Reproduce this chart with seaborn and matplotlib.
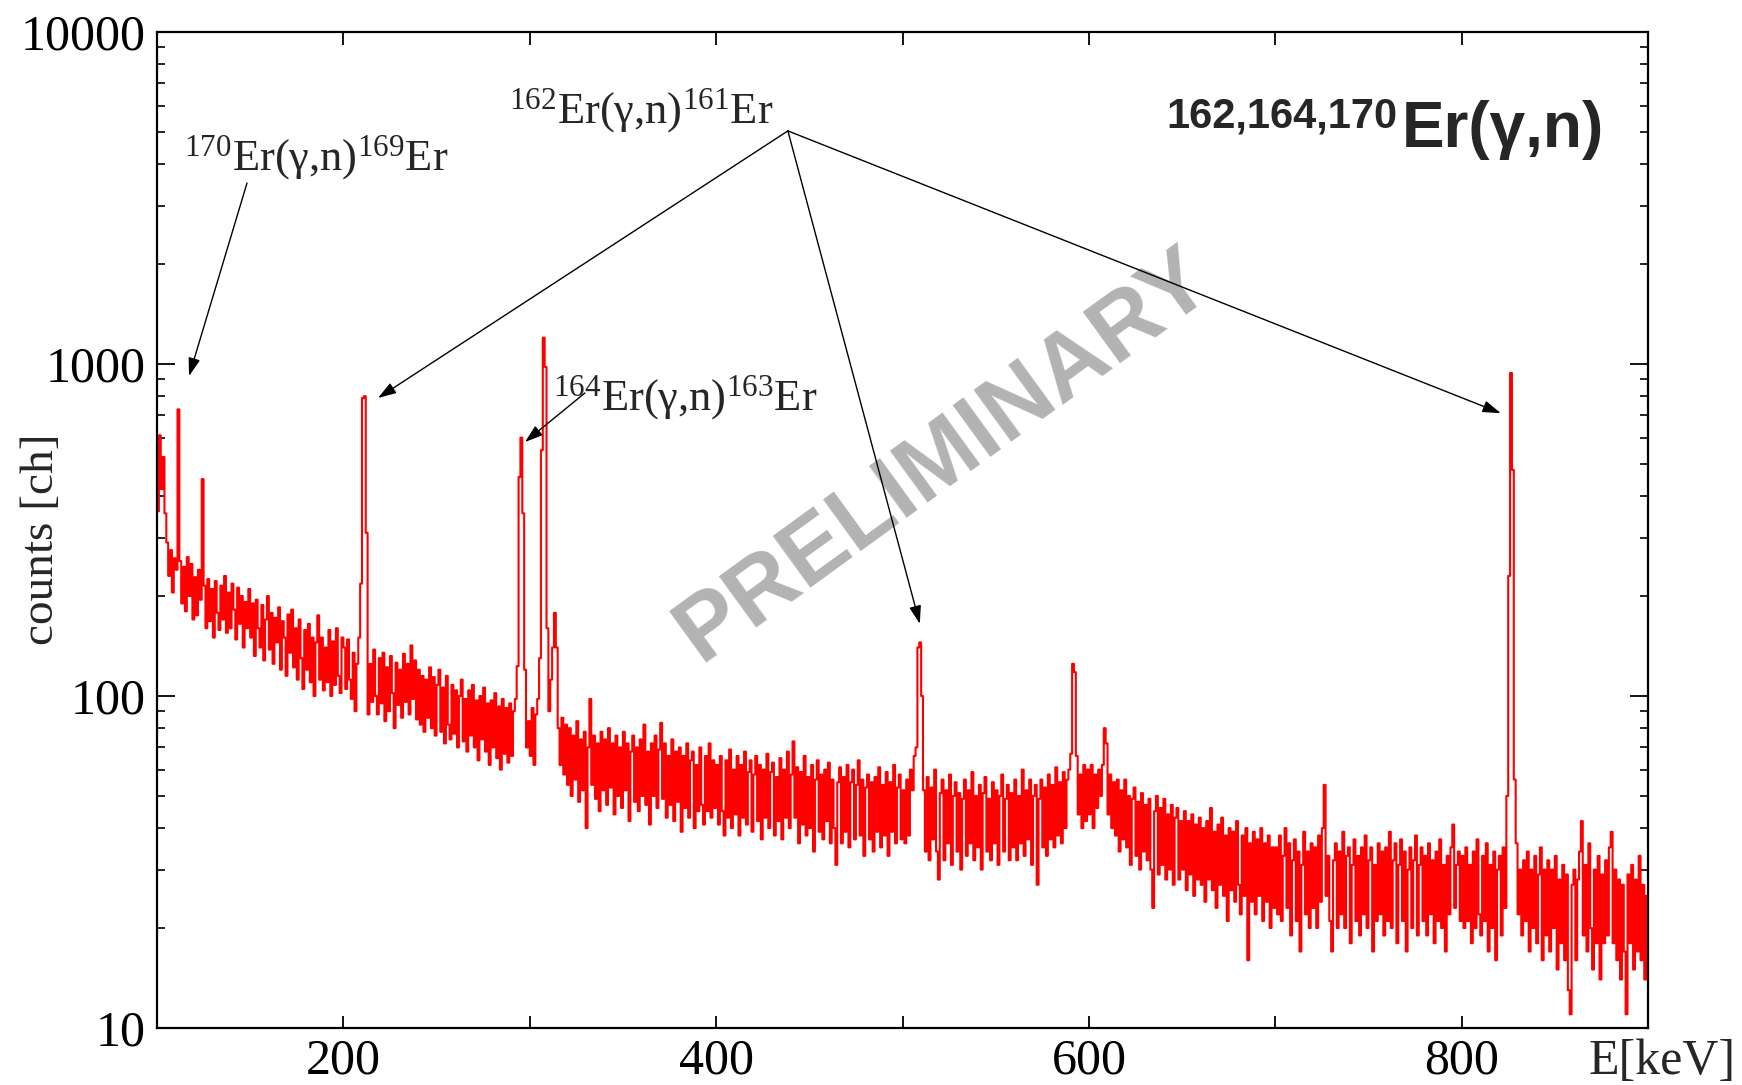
import numpy as np
import pandas as pd
import matplotlib
matplotlib.use("Agg")
import matplotlib.pyplot as plt
import seaborn as sns
from matplotlib.ticker import FixedLocator, LogLocator, NullFormatter

# ---------------- data (counts per 1 keV channel) ----------------
counts_100_199 = [360, 610, 420, 525, 355, 290, 230, 275, 205, 260, 240, 730, 255, 190, 245, 180, 262, 200, 250, 170,
                  228, 175, 240, 195, 450, 215, 160, 225, 168, 210, 150, 222, 178, 158, 215, 170, 230, 155, 205, 160,
                  218, 182, 148, 212, 165, 200, 140, 192, 160, 210, 150, 190, 132, 195, 160, 140, 188, 128, 170, 200,
                  138, 178, 125, 172, 145, 185, 120, 168, 150, 115, 176, 135, 182, 122, 160, 112, 170, 130, 105, 158,
                  120, 165, 110, 150, 100, 145, 175, 112, 150, 104, 140, 110, 158, 100, 146, 108, 160, 115, 102, 150]
counts_200_299 = [140, 105, 148, 112, 98, 135, 90, 125, 150, 218, 790, 800, 310, 88, 125, 96, 138, 100, 88, 130,
                  95, 135, 84, 122, 90, 132, 102, 80, 126, 94, 120, 86, 134, 96, 125, 88, 142, 98, 128, 85,
                  120, 82, 115, 78, 112, 86, 122, 80, 114, 76, 108, 120, 78, 106, 72, 115, 82, 74, 108, 77,
                  104, 70, 100, 112, 73, 98, 68, 104, 76, 108, 70, 97, 64, 100, 74, 106, 68, 95, 62, 97,
                  70, 102, 65, 93, 60, 98, 67, 92, 63, 95, 66, 90, 98, 123, 457, 600, 355, 120, 70, 84]
counts_300_399 = [66, 92, 62, 88, 98, 130, 550, 1200, 980, 160, 90, 112, 140, 178, 140, 80, 62, 86, 58, 82,
                  54, 80, 50, 76, 56, 84, 48, 74, 52, 78, 40, 70, 98, 54, 76, 49, 72, 45, 78, 52,
                  74, 47, 80, 53, 72, 44, 76, 50, 70, 46, 78, 52, 72, 42, 68, 76, 48, 70, 45, 74,
                  50, 82, 47, 68, 41, 72, 50, 76, 46, 69, 83, 49, 72, 43, 66, 47, 74, 42, 68, 48,
                  70, 39, 66, 46, 72, 43, 64, 68, 40, 62, 45, 70, 47, 41, 66, 45, 72, 43, 64, 46]
counts_400_499 = [62, 41, 66, 45, 38, 64, 43, 69, 40, 60, 44, 66, 38, 62, 43, 68, 41, 59, 64, 39,
                  58, 66, 42, 62, 37, 60, 43, 67, 40, 59, 63, 38, 57, 42, 65, 37, 60, 43, 68, 40,
                  58, 73, 43, 61, 36, 59, 41, 66, 38, 57, 40, 62, 34, 56, 64, 39, 58, 37, 60, 42,
                  63, 36, 56, 40, 31, 55, 61, 36, 57, 39, 62, 35, 55, 60, 37, 54, 64, 38, 56, 33,
                  53, 58, 37, 55, 34, 57, 39, 61, 35, 54, 38, 59, 33, 55, 39, 62, 36, 53, 58, 37]
counts_500_599 = [52, 36, 56, 38, 60, 52, 66, 70, 140, 145, 100, 52, 34, 57, 32, 53, 37, 60, 34, 28,
                  51, 56, 32, 52, 36, 58, 31, 50, 55, 34, 51, 30, 49, 56, 33, 52, 36, 59, 32, 50,
                  35, 54, 30, 51, 57, 34, 49, 32, 55, 36, 52, 31, 50, 58, 34, 49, 54, 32, 51, 35,
                  56, 32, 50, 36, 60, 33, 52, 37, 56, 31, 50, 54, 27, 49, 56, 35, 53, 33, 58, 37,
                  54, 35, 61, 38, 55, 36, 59, 40, 56, 60, 67, 125, 118, 66, 44, 58, 40, 62, 42, 60]
counts_600_699 = [44, 62, 40, 58, 46, 60, 50, 62, 80, 72, 44, 58, 40, 55, 38, 56, 34, 52, 37, 56,
                  35, 50, 31, 49, 53, 33, 48, 30, 51, 34, 47, 32, 49, 30, 23, 45, 50, 29, 46, 31,
                  49, 28, 44, 30, 47, 27, 43, 46, 28, 42, 30, 45, 26, 42, 29, 44, 25, 41, 28, 43,
                  27, 40, 24, 42, 28, 46, 26, 39, 23, 41, 27, 43, 25, 38, 21, 40, 26, 39, 24, 42,
                  27, 22, 38, 25, 40, 16, 36, 24, 39, 22, 37, 25, 40, 21, 36, 24, 38, 20, 35, 23]
counts_700_799 = [35, 22, 38, 21, 33, 40, 23, 36, 19, 32, 37, 21, 34, 17, 31, 39, 22, 34, 20, 36,
                  23, 35, 20, 38, 24, 40, 54, 25, 33, 21, 17, 32, 36, 20, 34, 22, 39, 20, 33, 35,
                  18, 31, 37, 21, 33, 19, 35, 22, 38, 20, 32, 35, 17, 31, 21, 36, 22, 34, 19, 35,
                  21, 39, 20, 32, 36, 18, 31, 37, 21, 34, 17, 30, 35, 20, 32, 38, 19, 31, 35, 21,
                  33, 19, 36, 22, 32, 18, 34, 21, 37, 20, 31, 17, 33, 22, 35, 41, 23, 31, 34, 21]
counts_800_899 = [33, 20, 35, 21, 31, 18, 34, 20, 37, 22, 19, 33, 21, 36, 17, 31, 20, 34, 16, 30,
                  33, 19, 35, 23, 50, 230, 940, 480, 56, 36, 22, 30, 19, 32, 21, 34, 17, 30, 20, 33,
                  18, 29, 35, 16, 30, 19, 32, 17, 30, 20, 33, 15, 28, 18, 31, 16, 29, 13, 11, 27,
                  30, 16, 28, 34, 42, 19, 31, 17, 36, 20, 15, 30, 18, 33, 14, 29, 18, 32, 19, 35,
                  39, 18, 30, 16, 28, 14, 27, 17, 11, 29, 18, 31, 15, 28, 17, 33, 16, 27, 14, 25]

first_channel_keV = 100
x_tick_values = [200, 300, 400, 500, 600, 700, 800]
x_tick_labels = ["200", "", "400", "", "600", "", "800"]
y_tick_values = [10, 100, 1000, 10000]
y_tick_labels = ["10", "100", "1000", "10000"]

# ---------------- style ----------------
sns.set_style("ticks")
plt.rcParams["font.family"] = ["Liberation Serif", "DejaVu Serif"]
plt.rcParams["mathtext.fontset"] = "custom"
plt.rcParams["mathtext.rm"] = "Liberation Serif"
plt.rcParams["mathtext.it"] = "Liberation Serif:italic"
plt.rcParams["mathtext.bf"] = "Liberation Serif:bold"

counts = np.concatenate([counts_100_199, counts_200_299, counts_300_399, counts_400_499,
                         counts_500_599, counts_600_699, counts_700_799, counts_800_899])
energy = first_channel_keV + 0.5 + np.arange(len(counts))
df = pd.DataFrame({"E": energy, "counts": counts})

W, H = 1742, 1085
fig = plt.figure(figsize=(W / 100, H / 100), dpi=100)
ax = fig.add_axes([157 / W, 1 - 1028 / H, (1648 - 157) / W, (1028 - 32) / H])

sns.lineplot(data=df, x="E", y="counts", ax=ax, color="#ff0000", lw=1.5,
             drawstyle="steps-mid", estimator=None, legend=False, zorder=2)

ax.set_yscale("log")
ax.set_xlim(100, 900)
ax.set_ylim(10, 10000)
ax.set_xlabel("")
ax.set_ylabel("")

ax.xaxis.set_major_locator(FixedLocator(x_tick_values))
ax.set_xticklabels(x_tick_labels)
ax.yaxis.set_major_locator(FixedLocator(y_tick_values))
ax.set_yticklabels(y_tick_labels)
ax.yaxis.set_minor_locator(LogLocator(base=10, subs=range(2, 10)))
ax.yaxis.set_minor_formatter(NullFormatter())

ax.tick_params(axis="both", which="both", direction="in", top=True, right=True,
               colors="black", labelsize=36)
ax.tick_params(axis="x", which="major", length=9, width=1.3, pad=7)
ax.tick_params(axis="y", which="major", length=13, width=1.3, pad=8)
ax.tick_params(axis="y", which="minor", length=6, width=1.2)
for s in ax.spines.values():
    s.set_linewidth(1.6)
    s.set_color("black")

fig.text(42 / W, 1 - 539 / H, "counts [ch]", rotation=90, ha="center", va="center", fontsize=34)
fig.text(1662 / W, 1 - 1074 / H, "E[keV]", ha="center", va="baseline", fontsize=36)

# ---------------- annotations ----------------
arrow_kw = dict(arrowstyle="-|>,head_length=0.55,head_width=0.18", color="black", lw=1.0,
                shrinkA=0, shrinkB=0, mutation_scale=20)

ax.text(114.5, 3837, r"$^{170}$Er(γ,n)$^{169}$Er", fontsize=32, va="baseline", ha="left", zorder=3)
ax.annotate("", xy=(117.2, 920), xytext=(148.3, 3508), arrowprops=arrow_kw, zorder=3)

ax.text(288.8, 5320, r"$^{162}$Er(γ,n)$^{161}$Er", fontsize=32, va="baseline", ha="left", zorder=3)
for tip in [(218.6, 790), (509.3, 165), (821.0, 711)]:
    ax.annotate("", xy=tip, xytext=(438.5, 5036), arrowprops=arrow_kw, zorder=3)

ax.text(312.4, 726, r"$^{164}$Er(γ,n)$^{163}$Er", fontsize=32, va="baseline", ha="left", zorder=3)
ax.annotate("", xy=(297.4, 582), xytext=(329.6, 818), arrowprops=arrow_kw, zorder=3)

fig.text(1166 / W, 1 - 128 / H, "162,164,170", fontsize=30, fontweight="bold",
         family=["Liberation Sans", "DejaVu Sans"], va="baseline", ha="left")
fig.text(1402 / W, 1 - 147 / H, "Er(γ,n)", fontsize=46, fontweight="bold",
         family=["Liberation Sans", "DejaVu Sans"], va="baseline", ha="left")

ax.text(944 / W, 1 - 456 / H, "PRELIMINARY", transform=fig.transFigure, rotation=36,
        rotation_mode="anchor", ha="center", va="center", fontsize=67, fontweight="bold",
        family=["Liberation Sans", "DejaVu Sans"], color="#b3b3b3", zorder=1, clip_on=False)

fig.savefig("out.png", dpi=100)
